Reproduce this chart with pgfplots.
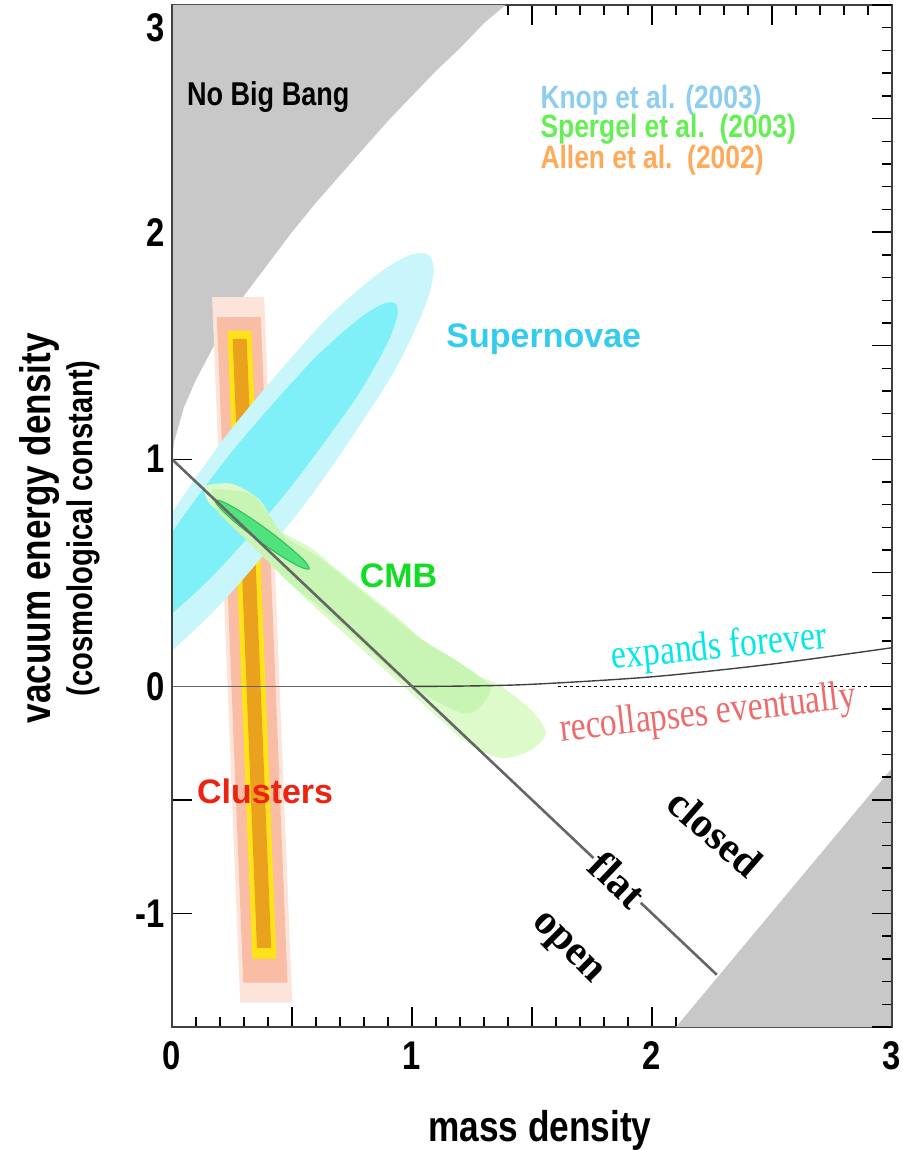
\documentclass[border=0pt]{standalone}
\usepackage{fontspec}
\setmainfont{Liberation Sans}
\newfontfamily\hv{Liberation Sans}
\newfontfamily\hvn[FakeStretch=0.82]{Liberation Sans}
\newfontfamily\tm[FakeStretch=0.82]{Liberation Serif}
\newfontfamily\tmb{Liberation Serif}
\usepackage{pgfplots}
\pgfplotsset{compat=1.18}
\definecolor{gr}{HTML}{C8C8C8}
\definecolor{snout}{HTML}{C8F6FA}
\definecolor{snin}{HTML}{80F0F8}
\definecolor{clpale}{HTML}{FDE4DA}
\definecolor{clsal}{HTML}{F9BCA5}
\definecolor{clyel}{HTML}{FFE21A}
\definecolor{clor}{HTML}{E9A11E}
\definecolor{cmbout}{HTML}{DDFACB}
\definecolor{cmbmid}{HTML}{C8F5B3}
\definecolor{cmbin}{HTML}{50E27C}
\definecolor{cmbinline}{HTML}{2DBE55}
\definecolor{supc}{HTML}{33CCEE}
\definecolor{cmbc}{HTML}{11DD22}
\definecolor{clc}{HTML}{EE2211}
\definecolor{knopc}{HTML}{8CCDF0}
\definecolor{spergc}{HTML}{66EE55}
\definecolor{allenc}{HTML}{FFAA5A}
\definecolor{expc}{HTML}{00E8E8}
\definecolor{recc}{HTML}{EE6B6B}
\begin{document}
\begin{tikzpicture}
\useasboundingbox (-86pt,-61.5pt) rectangle (365.5pt,513.5pt);
\begin{axis}[
  at={(0,0)}, anchor=south west,
  width=360pt, height=511pt, scale only axis,
  xmin=0, xmax=3, ymin=-1.5, ymax=3,
  xtick={0,0.5,...,3}, xticklabels={0,,1,,2,,3},
  minor x tick num=4,
  ytick={-1.5,-1,...,3},
  yticklabels={,-1,,0,,1,,2,,\smash{\raisebox{-18.5pt}{3}}},
  ytick pos=left,
  tick align=inside,
  major tick length=10pt, minor tick length=5pt,
  tick style={black, line width=0.7pt},
  axis line style={black!75, line width=0.8pt},
  ticklabel style={font=\hvn\bfseries\fontsize{20}{20}\selectfont},
  xticklabel style={yshift=-4pt},
  xlabel={mass density},
  xlabel style={font=\hvn\bfseries\fontsize{21.5}{22}\selectfont, at={(axis description cs:0.511,-0.1008)}, anchor=center},
  ylabel={vacuum energy density\\{\fontsize{17.8}{21}\selectfont (cosmological constant)}},
  ylabel style={font=\hvn\bfseries\fontsize{21.4}{21}\selectfont, at={(axis description cs:-0.156,0.488)}, anchor=center, align=center},
]
% No Big Bang region
\addplot[fill=gr, draw=none] coordinates {(0,3) (0,1.0) (0.01,1.08) (0.05,1.23) (0.1,1.35) (0.2,1.55) (0.3,1.72) (0.4,1.86) (0.5,2.0) (0.6,2.13) (0.7,2.25) (0.8,2.37) (0.9,2.49) (1.0,2.60) (1.1,2.71) (1.2,2.81) (1.3,2.92) (1.39,3.0)} -- cycle;
% lower right region
\addplot[fill=gr, draw=none] coordinates {(2.10,-1.5) (3,-0.36) (3,-1.5)} -- cycle;
% Clusters (Allen et al. 2002)
\addplot[fill=clpale, draw=none] coordinates {(0.167,1.714) (0.384,1.714) (0.501,-1.393) (0.284,-1.393)} -- cycle;
\addplot[fill=clsal, draw=none] coordinates {(0.187,1.626) (0.370,1.626) (0.481,-1.305) (0.297,-1.305)} -- cycle;
\addplot[fill=clyel, draw=none] coordinates {(0.231,1.565) (0.331,1.565) (0.435,-1.200) (0.335,-1.200)} -- cycle;
\addplot[fill=clor, draw=none] coordinates {(0.253,1.530) (0.311,1.530) (0.413,-1.152) (0.354,-1.152)} -- cycle;
% Supernovae (Knop et al. 2003)
\addplot[fill=snout, draw=none, smooth] coordinates {(-0.290,0.004) (-0.286,0.200) (-0.100,0.598) (0.216,1.090) (0.579,1.545) (0.747,1.719) (0.891,1.841) (1.001,1.902) (1.069,1.899) (1.091,1.831) (1.064,1.702) (0.992,1.524) (0.879,1.306) (0.562,0.814) (0.199,0.358) (-0.113,0.062) (-0.290,0.004)};
\addplot[fill=snin, draw=none, smooth] coordinates {(-0.195,0.213) (-0.175,0.358) (-0.010,0.662) (0.257,1.043) (0.553,1.399) (0.687,1.536) (0.799,1.634) (0.882,1.685) (0.930,1.686) (0.940,1.636) (0.910,1.540) (0.843,1.404) (0.745,1.236) (0.478,0.856) (0.182,0.500) (-0.065,0.265) (-0.195,0.213)};
% CMB (Spergel et al. 2003)
\addplot[fill=cmbout, draw=none, smooth] coordinates {(0.138,0.885) (0.249,0.892) (0.360,0.826) (0.416,0.738) (0.458,0.680) (0.583,0.607) (0.667,0.533) (0.806,0.416) (0.945,0.299) (1.112,0.138) (1.223,0.065) (1.362,0.006) (1.502,-0.111) (1.557,-0.207) (1.495,-0.281) (1.370,-0.316) (1.223,-0.243) (1.112,-0.141) (0.973,-0.009) (0.834,0.123) (0.694,0.255) (0.555,0.387) (0.430,0.519) (0.305,0.665) (0.152,0.812) (0.138,0.885)};
\addplot[fill=cmbmid, draw=none, smooth] coordinates {(0.167,0.870) (0.326,0.848) (0.401,0.760) (0.472,0.659) (0.618,0.563) (0.827,0.387) (1.035,0.211) (1.203,0.101) (1.328,-0.009) (1.244,-0.119) (1.119,-0.075) (0.952,0.035) (0.701,0.277) (0.493,0.453) (0.326,0.629) (0.180,0.782) (0.167,0.870)};
\addplot[fill=cmbin, draw=cmbinline, line width=0.5pt, smooth] coordinates {(0.358,0.643) (0.263,0.722) (0.198,0.787) (0.180,0.819) (0.216,0.811) (0.293,0.765) (0.393,0.693) (0.488,0.614) (0.554,0.550) (0.571,0.517) (0.536,0.525) (0.458,0.571) (0.358,0.643)};
% lines
\addplot[black!60, line width=0.7pt] coordinates {(0,0) (1,0)};
\addplot[black!75, line width=0.7pt, smooth] coordinates {(1,0) (1.2,0.001) (1.5,0.009) (2,0.042) (2.5,0.098) (3,0.170)};
\addplot[black, line width=0.8pt, dash pattern=on 1.5pt off 1.5pt] coordinates {(1.61,0) (3,0)};
\addplot[black!60, line width=1.3pt] coordinates {(0,1) (2.27,-1.27)};
% texts
\node[font=\hvn\bfseries\fontsize{16.5}{17}\selectfont] at (axis cs:0.401,2.594) {No Big Bang};
\node[anchor=west, text=knopc, font=\hvn\bfseries\fontsize{16.1}{16}\selectfont] at (axis cs:1.506,2.583) {Knop et al. (2003)};
\node[anchor=west, text=spergc, font=\hvn\bfseries\fontsize{16.1}{16}\selectfont] at (axis cs:1.506,2.451) {Spergel et al.\ \ (2003)};
\node[anchor=west, text=allenc, font=\hvn\bfseries\fontsize{16.1}{16}\selectfont] at (axis cs:1.506,2.315) {Allen et al.\ \ (2002)};
\node[text=supc, font=\hv\bfseries\fontsize{17}{17}\selectfont] at (axis cs:1.549,1.530) {Supernovae};
\node[text=cmbc, font=\hv\bfseries\fontsize{17}{17}\selectfont] at (axis cs:0.944,0.488) {CMB};
\node[text=clc, font=\hv\bfseries\fontsize{17}{17}\selectfont] at (axis cs:0.388,-0.462) {Clusters};
\node[text=expc, rotate=5.5, font=\tm\fontsize{20.5}{21}\selectfont] at (axis cs:2.280,0.167) {expands forever};
\node[text=recc, rotate=6.5, font=\tm\fontsize{20.5}{21}\selectfont] at (axis cs:2.233,-0.126) {recollapses eventually};
\node[rotate=-41, font=\tmb\bfseries\fontsize{21}{21}\selectfont] at (axis cs:2.263,-0.646) {closed};
\node[rotate=-43.5, fill=white, inner sep=1pt, font=\tmb\bfseries\fontsize{21}{21}\selectfont] at (axis cs:1.858,-0.851) {flat};
\node[rotate=-45, font=\tmb\bfseries\fontsize{21}{21}\selectfont] at (axis cs:1.64,-1.16) {open};
\end{axis}
\begin{axis}[
  at={(0,0)}, anchor=south west,
  width=360pt, height=511pt, scale only axis,
  xmin=0, xmax=3, ymin=-1.5, ymax=3,
  hide x axis,
  ytick={-1.5,-1,...,3}, yticklabels={},
  minor y tick num=4,
  ytick pos=right,
  tick align=inside,
  major tick length=10pt, minor tick length=5pt,
  tick style={black, line width=0.7pt},
  axis line style={black!75, line width=0.8pt},
]
\addplot[draw=none] coordinates {(0,0)};
\end{axis}
\end{tikzpicture}
\end{document}
